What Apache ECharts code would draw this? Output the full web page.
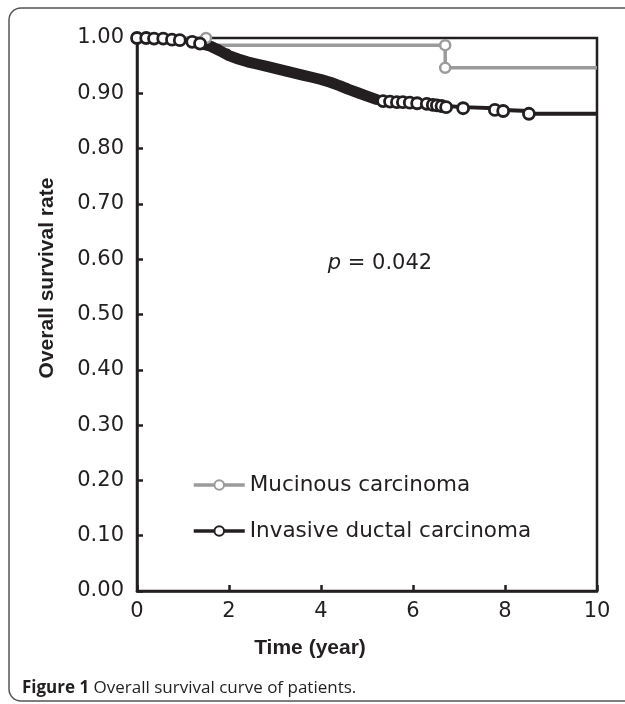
<!DOCTYPE html>
<html>
<head>
<meta charset="utf-8">
<script src="https://cdn.jsdelivr.net/npm/echarts@6/dist/echarts.min.js"></script>
<style>
  html, body { margin: 0; padding: 0; background: #fff; }
  #chart { width: 625px; height: 704px; }
</style>
</head>
<body>
<div id="chart"></div>
<script>
// Kaplan-Meier curves (time in years, survival rate)
const mucTime = [0, 1.5, 1.5, 6.7, 6.7, 10];
const mucSurv = [1.000, 1.000, 0.987, 0.987, 0.946, 0.946];
const mucMark = [0, 1, 0, 1, 1, 0];

const idcTime = [0, 0.2, 0.37, 0.57, 0.76, 0.93, 1.2, 1.37, 1.6, 1.8, 2.0, 2.2, 2.4, 2.6, 2.8,
  3.0, 3.2, 3.4, 3.6, 3.8, 4.0, 4.2, 4.4, 4.6, 4.8, 5.0, 5.2, 5.35, 5.5, 5.65, 5.78, 5.93,
  6.09, 6.3, 6.43, 6.52, 6.62, 6.72, 7.09, 7.78, 7.96, 8.52, 10];
const idcSurv = [1.000, 1.000, 0.999, 0.999, 0.997, 0.996, 0.993, 0.990, 0.985, 0.977, 0.968, 0.962, 0.957, 0.953, 0.949,
  0.945, 0.941, 0.937, 0.933, 0.929, 0.925, 0.920, 0.914, 0.907, 0.901, 0.895, 0.889, 0.886, 0.885, 0.884, 0.884, 0.883,
  0.882, 0.881, 0.879, 0.878, 0.877, 0.875, 0.873, 0.870, 0.868, 0.863, 0.862];
const idcMark = [1, 1, 1, 1, 1, 1, 1, 1, 0, 0, 0, 0, 0, 0, 0,
  0, 0, 0, 0, 0, 0, 0, 0, 0, 0, 0, 0, 1, 1, 1, 1, 1,
  1, 1, 1, 1, 1, 1, 1, 1, 1, 1, 0];

// the dense run of censored marks between ~1 and ~5.3 years shows as a solid band
const bandFrom = 6;
const bandTo = 27;

const seriesNames = ['Mucinous carcinoma', 'Invasive ductal carcinoma'];
const xTicks = [0, 2, 4, 6, 8, 10];

const ink = '#231f20';
const grey = '#9b9b9b';

const toData = (times, surv, marks) =>
  times.map((t, i) => marks && marks[i]
    ? { value: [t, surv[i]] }
    : { value: [t, surv[i]], symbol: 'none' });

const chart = echarts.init(document.getElementById('chart'), null, { renderer: 'canvas' });

const option = {
  animation: false,
  backgroundColor: '#fff',
  grid: {
    left: 137,
    right: 28,
    top: 38,
    bottom: 113,
    show: true,
    borderColor: ink,
    borderWidth: 2.5,
    backgroundColor: 'transparent'
  },
  legend: {
    data: seriesNames,
    orient: 'vertical',
    left: 187,
    top: 469,
    itemWidth: 51,
    itemHeight: 12,
    itemGap: 24,
    lineStyle: { width: 3.5 },
    textStyle: {
      fontFamily: 'DejaVu Sans',
      fontSize: 21.5,
      color: ink,
      padding: [0, 0, 0, 0]
    }
  },
  xAxis: {
    type: 'value',
    min: 0,
    max: 10,
    interval: 2,
    axisLine: { lineStyle: { color: ink, width: 2.5 } },
    axisTick: { inside: true, length: 6, lineStyle: { color: ink, width: 2.5 } },
    splitLine: { show: false },
    axisLabel: {
      margin: 10,
      color: ink,
      fontFamily: 'DejaVu Sans',
      fontSize: 21,
      formatter: (v) => xTicks.includes(v) ? String(v) : ''
    }
  },
  yAxis: {
    type: 'value',
    min: 0,
    max: 1,
    interval: 0.1,
    axisLine: { show: true, lineStyle: { color: ink, width: 2.5 } },
    axisTick: { show: true, inside: true, length: 6, lineStyle: { color: ink, width: 2.5 } },
    splitLine: { show: false },
    axisLabel: {
      margin: 13,
      color: ink,
      fontFamily: 'DejaVu Sans',
      fontSize: 21,
      formatter: (v) => v.toFixed(2)
    }
  },
  series: [
    {
      name: seriesNames[0],
      type: 'line',
      data: toData(mucTime, mucSurv, mucMark),
      symbol: 'circle',
      symbolSize: 10,
      lineStyle: { color: grey, width: 3.5 },
      itemStyle: { color: '#fff', borderColor: grey, borderWidth: 2.5 }
    },
    {
      name: seriesNames[1],
      type: 'line',
      step: 'end',
      data: toData(idcTime, idcSurv, idcMark),
      symbol: 'circle',
      symbolSize: 11,
      lineStyle: { color: ink, width: 4 },
      itemStyle: { color: '#fff', borderColor: ink, borderWidth: 2.8 }
    },
    {
      name: 'band',
      type: 'line',
      silent: true,
      z: 3,
      data: toData(idcTime.slice(bandFrom, bandTo), idcSurv.slice(bandFrom, bandTo)),
      symbol: 'none',
      lineStyle: { color: ink, width: 11, cap: 'round', join: 'round' }
    }
  ],
  graphic: [
    {
      type: 'rect',
      silent: true,
      shape: { x: 9, y: 8, width: 660, height: 693, r: 12 },
      style: { fill: 'none', stroke: '#555', lineWidth: 1.5 }
    },
    {
      type: 'text',
      x: 47,
      y: 278,
      rotation: Math.PI / 2,
      style: {
        text: 'Overall survival rate',
        font: 'bold 21px "Liberation Sans", Arial, sans-serif',
        fill: ink,
        align: 'center',
        verticalAlign: 'middle'
      }
    },
    {
      type: 'text',
      x: 310,
      y: 648,
      style: {
        text: 'Time (year)',
        font: 'bold 21px "Liberation Sans", Arial, sans-serif',
        fill: ink,
        align: 'center',
        verticalAlign: 'middle'
      }
    },
    {
      type: 'text',
      x: 380,
      y: 264,
      style: {
        text: '{i|p} = 0.042',
        font: '21px "DejaVu Sans"',
        fill: ink,
        align: 'center',
        verticalAlign: 'middle',
        rich: {
          i: { fontStyle: 'italic', fontFamily: 'DejaVu Sans', fontSize: 21, fill: ink }
        }
      }
    },
    {
      type: 'text',
      x: 22,
      y: 688,
      style: {
        text: '{b|Figure 1} Overall survival curve of patients.',
        font: '17px "Open Sans"',
        fill: ink,
        align: 'left',
        verticalAlign: 'middle',
        rich: {
          b: { fontWeight: 'bold', fontFamily: 'Open Sans', fontSize: 17, fill: ink }
        }
      }
    }
  ]
};

chart.setOption(option);
</script>
</body>
</html>
